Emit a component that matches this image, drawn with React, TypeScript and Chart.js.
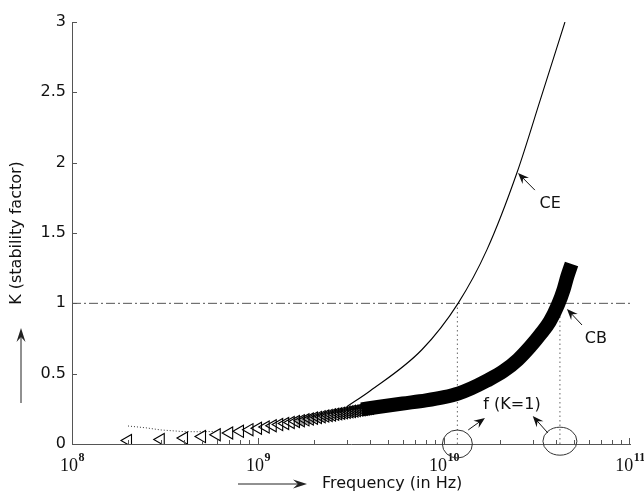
import { useEffect, useRef } from "react";
import { Chart, registerables } from "chart.js";

Chart.register(...registerables);

// ---- data ----
const xTickExponents = [8, 9, 10, 11];
const yTickValues = [0, 0.5, 1, 1.5, 2, 2.5, 3];

// CE (thin solid line)
const ceFreq = [3.0e9, 4.0e9, 7.6e9, 1.19e10, 1.7e10, 2.47e10, 3.3e10, 4.47e10];
const ceK = [0.265, 0.377, 0.67, 1.0, 1.38, 1.93, 2.45, 3.0];

// CB markers (left-pointing triangles) at the low-frequency end
const cbMarkerFreq = [
  2e8, 3e8, 4e8, 5e8, 6e8, 7e8, 8e8, 9e8, 1.0e9, 1.1e9, 1.2e9, 1.3e9, 1.4e9, 1.5e9, 1.6e9, 1.7e9, 1.8e9, 1.9e9, 2.0e9,
  2.1e9, 2.2e9, 2.3e9, 2.4e9, 2.5e9, 2.6e9, 2.7e9, 2.8e9, 2.9e9, 3.0e9, 3.1e9, 3.2e9, 3.3e9, 3.4e9, 3.5e9, 3.6e9, 3.7e9, 3.8e9, 3.9e9, 4.0e9,
];
const cbMarkerK = [
  0.025, 0.032, 0.042, 0.053, 0.066, 0.078, 0.09, 0.102, 0.112, 0.121, 0.13, 0.138, 0.146, 0.153, 0.16, 0.166, 0.172, 0.178, 0.184,
  0.189, 0.194, 0.199, 0.203, 0.207, 0.211, 0.215, 0.219, 0.222, 0.226, 0.229, 0.232, 0.235, 0.238, 0.241, 0.244, 0.247, 0.25, 0.252, 0.255,
];

// overlap shading where the markers crowd together
const cbHatchFreq = [1.6e9, 2.0e9, 2.5e9, 3.0e9, 3.6e9];
const cbHatchK = [0.16, 0.184, 0.207, 0.226, 0.244];

// CB dense part (markers merge into a thick band)
const cbBandFreq = [3.6e9, 4.5e9, 6.0e9, 8.0e9, 1.0e10, 1.2e10, 1.4e10, 1.7e10, 2.1e10, 2.5e10, 2.9e10, 3.3e10, 3.7e10, 4.1e10, 4.4e10, 4.6e10, 4.85e10];
const cbBandK = [0.246, 0.265, 0.288, 0.31, 0.333, 0.36, 0.395, 0.45, 0.52, 0.6, 0.69, 0.78, 0.87, 0.99, 1.1, 1.19, 1.28];

// thin dotted curve at low frequency
const lowDotFreq = [2e8, 2.5e8, 3e8, 4e8, 5e8, 6e8];
const lowDotK = [0.128, 0.115, 0.1, 0.088, 0.087, 0.09];

// K = 1 reference and the two crossing frequencies
const kOne = 1;
const crossFreq = [1.18e10, 4.2e10];

const SANS = "'DejaVu Sans', Verdana, sans-serif";
const SERIF = "'Liberation Serif', 'Times New Roman', serif";

function pts(fs: number[], ks: number[]) {
  return fs.map((f, i) => ({ x: f, y: ks[i] }));
}

function arrow(ctx: CanvasRenderingContext2D, x1: number, y1: number, x2: number, y2: number, hl = 10, hw = 4, color = "#111") {
  const a = Math.atan2(y2 - y1, x2 - x1);
  const c = Math.cos(a), s = Math.sin(a);
  ctx.save();
  ctx.strokeStyle = color;
  ctx.fillStyle = color;
  ctx.lineWidth = 1;
  ctx.beginPath();
  ctx.moveTo(x1, y1);
  ctx.lineTo(x2 - c * hl * 0.6, y2 - s * hl * 0.6);
  ctx.stroke();
  ctx.beginPath();
  ctx.moveTo(x2, y2);
  ctx.lineTo(x2 - hl * c + hw * s, y2 - hl * s - hw * c);
  ctx.lineTo(x2 - 0.65 * hl * c, y2 - 0.65 * hl * s);
  ctx.lineTo(x2 - hl * c - hw * s, y2 - hl * s + hw * c);
  ctx.closePath();
  ctx.fill();
  ctx.restore();
}

const decorPlugin = {
  id: "decor",
  afterDraw(chart: any) {
    const ctx: CanvasRenderingContext2D = chart.ctx;
    const xs = chart.scales.x;
    const ys = chart.scales.y;
    const area = chart.chartArea;
    const X = (v: number) => xs.getPixelForValue(v);
    const Y = (v: number) => ys.getPixelForValue(v);

    ctx.save();
    // inside ticks
    ctx.strokeStyle = "#555";
    ctx.lineWidth = 1;
    ctx.beginPath();
    for (const v of yTickValues) {
      if (v === 0) continue;
      const py = Math.round(Y(v)) + 0.5;
      ctx.moveTo(area.left, py);
      ctx.lineTo(area.left + 5, py);
    }
    for (let e = xTickExponents[0]; e < xTickExponents[xTickExponents.length - 1]; e++) {
      for (let k = 1; k <= 9; k++) {
        const px = Math.round(X(k * Math.pow(10, e))) + 0.5;
        const len = k === 1 ? 6 : 4;
        ctx.moveTo(px, area.bottom);
        ctx.lineTo(px, area.bottom - len);
      }
    }
    {
      const px = Math.round(X(Math.pow(10, xTickExponents[xTickExponents.length - 1]))) - 0.5;
      ctx.moveTo(px, area.bottom);
      ctx.lineTo(px, area.bottom - 6);
    }
    ctx.stroke();

    // x tick labels 10^n
    ctx.fillStyle = "#111";
    ctx.textBaseline = "alphabetic";
    ctx.textAlign = "left";
    for (const e of xTickExponents) {
      const px = X(Math.pow(10, e));
      ctx.font = `18px ${SERIF}`;
      const wb = ctx.measureText("10").width;
      ctx.font = `bold 12px ${SERIF}`;
      const ws = ctx.measureText(String(e)).width;
      const start = px - (wb + ws) / 2;
      ctx.font = `18px ${SERIF}`;
      ctx.fillText("10", start, area.bottom + 27);
      ctx.font = `bold 12px ${SERIF}`;
      ctx.fillText(String(e), start + wb + 0.5, area.bottom + 17);
    }

    // axis titles
    ctx.font = `16px ${SANS}`;
    ctx.fillStyle = "#111";
    ctx.save();
    ctx.translate(17, 233);
    ctx.rotate(-Math.PI / 2);
    ctx.textAlign = "center";
    ctx.textBaseline = "middle";
    ctx.fillText("K (stability factor)", 0, 0);
    ctx.restore();
    arrow(ctx, 21, 403, 21, 328, 14, 4.5, "#222");

    ctx.textAlign = "left";
    ctx.textBaseline = "middle";
    ctx.fillText("Frequency (in Hz)", 322, 484);
    arrow(ctx, 238, 484, 307, 484, 14, 4.5, "#222");

    // annotations
    ctx.font = `16px ${SANS}`;
    ctx.textAlign = "center";
    ctx.textBaseline = "middle";
    ctx.fillText("CE", X(3.72e10), Y(1.71));
    arrow(ctx, X(3.08e10), Y(1.805), X(2.5e10), Y(1.926), 11, 4.5);
    ctx.fillText("CB", X(6.56e10), Y(0.75));
    arrow(ctx, X(5.52e10), Y(0.846), X(4.58e10), Y(0.96), 11, 4.5);
    ctx.fillText("f (K=1)", X(2.32e10), Y(0.277));
    arrow(ctx, X(1.35e10), Y(0.1), X(1.66e10), Y(0.185), 11, 4.5);
    arrow(ctx, X(3.62e10), Y(0.078), X(3.0e10), Y(0.199), 11, 4.5);

    ctx.strokeStyle = "#333";
    ctx.lineWidth = 1;
    ctx.beginPath();
    ctx.ellipse(X(crossFreq[0]), Y(0), 15, 14, 0, 0, Math.PI * 2);
    ctx.stroke();
    ctx.beginPath();
    ctx.ellipse(X(crossFreq[1]), Y(0.02), 17, 14, 0, 0, Math.PI * 2);
    ctx.stroke();
    ctx.restore();
  },
};

export default function App() {
  const ref = useRef<HTMLCanvasElement | null>(null);

  useEffect(() => {
    if (!ref.current) return;
    const chart = new Chart(ref.current, {
      type: "scatter",
      data: {
        datasets: [
          {
            label: "CE",
            data: pts(ceFreq, ceK),
            showLine: true,
            borderColor: "#000",
            borderWidth: 1.1,
            pointRadius: 0,
            cubicInterpolationMode: "monotone",
          },
          {
            label: "CB band",
            data: pts(cbBandFreq, cbBandK),
            showLine: true,
            borderColor: "#000",
            borderWidth: 14,
            pointRadius: 0,
            cubicInterpolationMode: "monotone",
          },
          {
            label: "CB",
            data: pts(cbMarkerFreq, cbMarkerK),
            showLine: false,
            pointStyle: "triangle",
            rotation: -90,
            pointRadius: 7,
            borderWidth: 1.1,
            pointBorderColor: "#000",
            pointBackgroundColor: "rgba(0,0,0,0)",
          },
          {
            label: "CB overlap",
            data: pts(cbHatchFreq, cbHatchK),
            showLine: true,
            borderColor: "rgba(0,0,0,0.35)",
            borderWidth: 9,
            pointRadius: 0,
            cubicInterpolationMode: "monotone",
          },
          {
            label: "low",
            data: pts(lowDotFreq, lowDotK),
            showLine: true,
            borderColor: "#333",
            borderWidth: 1,
            borderDash: [1, 2],
            pointRadius: 0,
          },
          {
            label: "v1",
            data: [{ x: crossFreq[0], y: 0 }, { x: crossFreq[0], y: kOne }],
            showLine: true,
            borderColor: "#666",
            borderWidth: 1,
            borderDash: [1.5, 3],
            pointRadius: 0,
          },
          {
            label: "v2",
            data: [{ x: crossFreq[1], y: 0 }, { x: crossFreq[1], y: kOne }],
            showLine: true,
            borderColor: "#666",
            borderWidth: 1,
            borderDash: [1.5, 3],
            pointRadius: 0,
          },
          {
            label: "K=1",
            data: [{ x: 1e8, y: kOne }, { x: 1e11, y: kOne }],
            showLine: true,
            borderColor: "#555",
            borderWidth: 1,
            borderDash: [9, 3, 2, 3],
            pointRadius: 0,
          },
        ] as any,
      },
      options: {
        animation: false,
        responsive: false,
        events: [],
        layout: { padding: { left: 0, right: 14, top: 22, bottom: 0 } },
        plugins: { legend: { display: false }, tooltip: { enabled: false } },
        scales: {
          x: {
            type: "logarithmic",
            min: 1e8,
            max: 1e11,
            ticks: { display: false },
            grid: { display: true, drawOnChartArea: false, drawTicks: false },
            border: { display: true, color: "#555", width: 1 },
            afterFit: (s: any) => {
              s.height = 50;
            },
          },
          y: {
            type: "linear",
            min: 0,
            max: 3,
            ticks: {
              stepSize: 0.5,
              padding: 6,
              color: "#111",
              font: { family: SANS, size: 16 },
              callback: (v: any) => String(v),
            },
            grid: { display: true, drawOnChartArea: false, drawTicks: false },
            border: { display: true, color: "#555", width: 1 },
            afterFit: (s: any) => {
              s.width = 72;
            },
          },
        },
      } as any,
      plugins: [decorPlugin],
    });
    return () => chart.destroy();
  }, []);

  return (
    <div style={{ position: "fixed", left: 0, top: 0, width: 644, height: 494, background: "#fff" }}>
      <canvas ref={ref} width={644} height={494} style={{ display: "block" }} />
    </div>
  );
}
